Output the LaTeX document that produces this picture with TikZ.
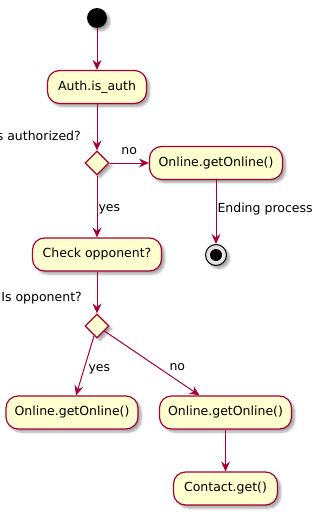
\documentclass[tikz,border=0pt]{standalone}
\usepackage{fontspec}
\setmainfont{DejaVu Sans}
\usetikzlibrary{arrows.meta,shapes.geometric,shadows.blur}
\definecolor{umlred}{HTML}{A80036}
\definecolor{umlfill}{HTML}{FEFECE}
\begin{document}
\begin{tikzpicture}[x=1pt,y=-1pt,
  font=\fontsize{12.5}{14}\selectfont,
  shade/.style={blur shadow={shadow xshift=3pt,shadow yshift=-3pt,shadow blur steps=6,shadow opacity=35}},
  activity/.style={draw=umlred,fill=umlfill,line width=1.2pt,rounded corners=12pt,
    minimum height=33pt,inner xsep=8pt,shade},
  choice/.style={diamond,draw=umlred,fill=umlfill,line width=1.2pt,minimum width=24pt,
    minimum height=24pt,inner sep=0pt,shade},
  startdot/.style={circle,fill=black,minimum size=20pt,inner sep=0pt,shade},
  stopring/.style={circle,draw=black,inner color=white,outer color=black!15,line width=1pt,
    minimum size=21pt,inner sep=0pt,shade},
  stopdot/.style={circle,fill=black,minimum size=12pt,inner sep=0pt},
  flow/.style={draw=umlred,line width=1pt,-{Stealth[length=10pt,width=9pt,inset=3.5pt]}},
  lbl/.style={inner sep=0pt,text=black}]
\useasboundingbox (0,0) rectangle (324,516);

% nodes
\node[startdot] (start) at (97,18) {};
\node[activity,minimum width=99pt] (auth) at (97,87) {Auth.is\_auth};
\node[choice] (d1) at (97,163) {};
\node[lbl,anchor=east] (q1) at (81,136) {Is authorized?};
\node[activity,minimum width=133pt] (off) at (216,163) {Online.getOnline()};
\node[stopring] (stop) at (216,255) {};
\node[stopdot] (stopin) at (216,255) {};
\node[activity,minimum width=129pt] (check) at (97,254.5) {Check opponent?};
\node[choice] (d2) at (97,326) {};
\node[lbl,anchor=east] (q2) at (82,298) {Is opponent?};
\node[activity,minimum width=132pt] (yesbox) at (72,412.5) {Online.getOnline()};
\node[activity,minimum width=132pt] (nobox) at (225.5,412.5) {Online.getOnline()};
\node[activity,minimum width=104pt] (contact) at (225.5,488.5) {Contact.get()};

% connectors
\draw[flow] (start) -- (auth);
\draw[flow] (auth) -- (d1);
\draw[flow] (d1) -- node[lbl,midway,anchor=south,yshift=8pt] {no} (off);
\draw[flow] (off) -- node[lbl,midway,anchor=west,xshift=1pt,yshift=3pt] {Ending process} (stop);
\draw[flow] (d1) -- node[lbl,midway,anchor=west,xshift=1pt,yshift=-3pt] {yes} (check);
\draw[flow] (check) -- (d2);
\draw[flow] (d2) -- node[lbl,midway,anchor=west,xshift=3pt,yshift=-4pt] {yes} ([xshift=4pt]yesbox.north);
\draw[flow] (d2) -- node[lbl,midway,anchor=west,xshift=17pt,yshift=-4pt] {no} ([xshift=-26pt]nobox.north);
\draw[flow] (nobox) -- (contact);
\end{tikzpicture}
\end{document}
